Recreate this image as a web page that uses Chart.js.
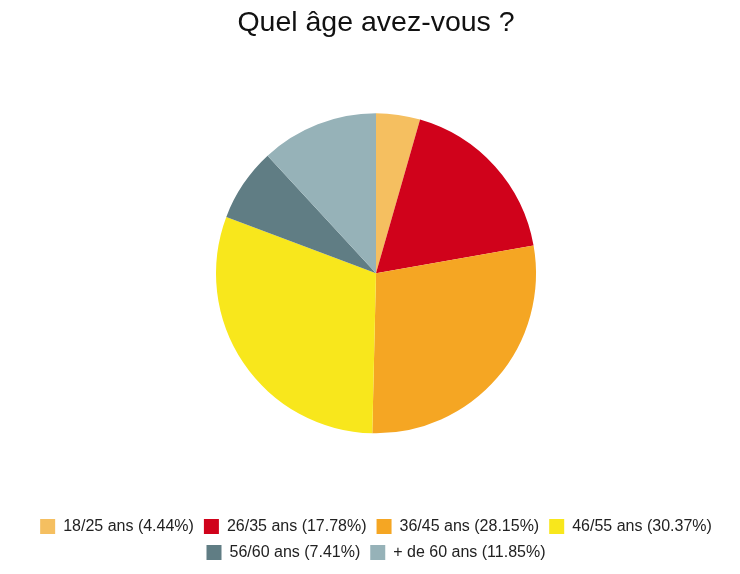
<!DOCTYPE html>
<html>
<head>
<meta charset="utf-8">
<script src="https://cdn.jsdelivr.net/npm/chart.js@4/dist/chart.umd.min.js"></script>
<style>
  html, body { margin: 0; padding: 0; background: #ffffff; }
  #wrap { width: 740px; height: 574px; }
</style>
</head>
<body>
<div id="wrap"><canvas id="c" width="740" height="574"></canvas></div>
<script>
const titleText = "Quel âge avez-vous ?";
const categories = ["18/25 ans", "26/35 ans", "36/45 ans", "46/55 ans", "56/60 ans", "+ de 60 ans"];
const percents = [4.44, 17.78, 28.15, 30.37, 7.41, 11.85];
const colors = ["#F5BF60", "#D0021B", "#F5A623", "#F8E71C", "#607D84", "#96B2B8"];

const labels = categories.map((c, i) => c + " (" + percents[i].toFixed(2) + "%)");

new Chart(document.getElementById('c'), {
  type: 'pie',
  data: {
    labels: labels,
    datasets: [{
      data: percents,
      backgroundColor: colors,
      borderWidth: 0,
      radius: 160
    }]
  },
  options: {
    responsive: false,
    animation: false,
    devicePixelRatio: 1,
    layout: { padding: { left: 12, right: 0, top: 0, bottom: 3.5 } },
    plugins: {
      title: {
        display: true,
        text: titleText,
        color: '#111111',
        font: { family: 'Liberation Sans, Arial, sans-serif', size: 28.5, weight: 'normal' },
        padding: { top: 6, bottom: -2 }
      },
      legend: {
        display: true,
        position: 'bottom',
        labels: {
          color: '#222222',
          font: { family: 'Liberation Sans, Arial, sans-serif', size: 16 },
          boxWidth: 15,
          boxHeight: 15,
          padding: 10
        }
      },
      tooltip: { enabled: false }
    }
  }
});
</script>
</body>
</html>
